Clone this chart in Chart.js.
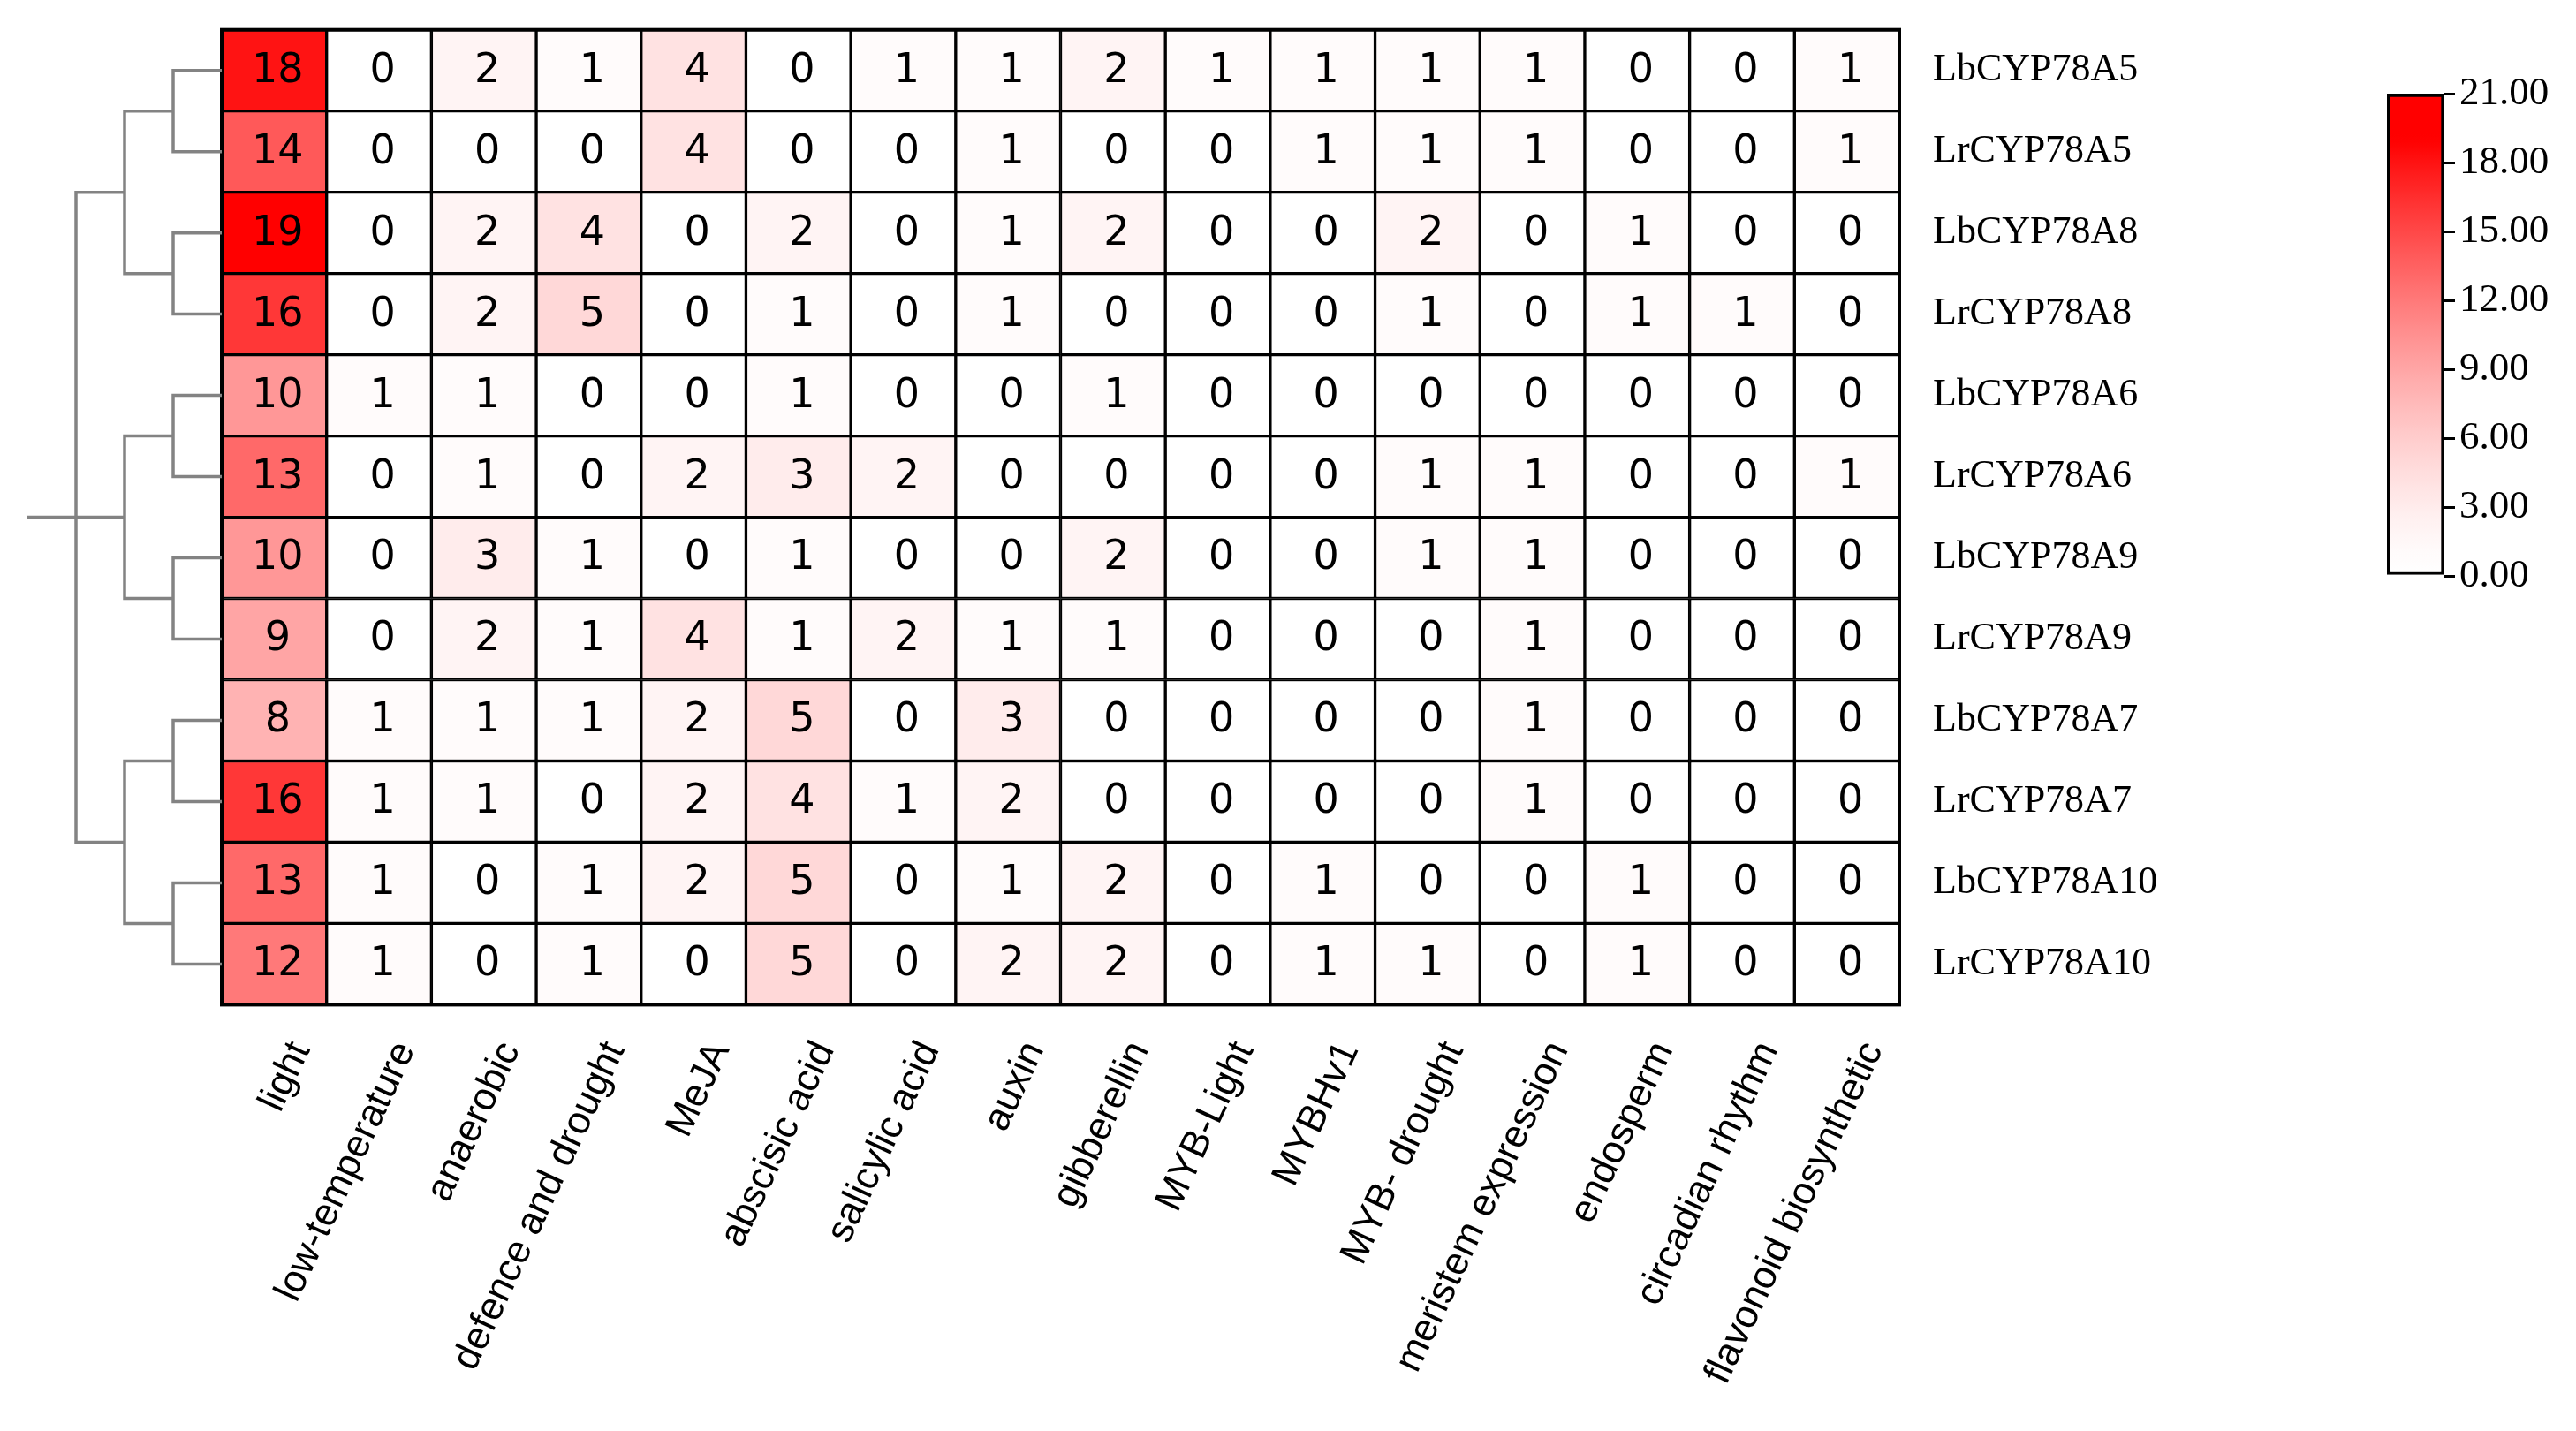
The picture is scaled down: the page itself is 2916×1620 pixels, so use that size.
<!DOCTYPE html>
<html>
<head>
<meta charset="utf-8">
<script src="https://cdn.jsdelivr.net/npm/chart.js@4.4.1/dist/chart.umd.min.js"></script>
<style>
html,body{margin:0;padding:0;background:#fff;}
#wrap{position:relative;width:2916px;height:1620px;background:#fff;}
#main{position:absolute;left:0;top:0;}
#dendro{position:absolute;left:0;top:0;}
#cbar{position:absolute;left:2600px;top:60px;}
</style>
</head>
<body>
<div id="wrap">
<canvas id="main" width="2916" height="1620"></canvas>
<canvas id="dendro" width="260" height="1620"></canvas>
<canvas id="cbar" width="316" height="640"></canvas>
</div>
<script>
// ---------------- data ----------------
const conditions = ['light','low-temperature','anaerobic','defence and drought','MeJA','abscisic acid','salicylic acid','auxin','gibberellin','MYB-Light','MYBHv1','MYB- drought','meristem expression','endosperm','circadian rhythm','flavonoid biosynthetic'];
const genes = ['LbCYP78A5','LrCYP78A5','LbCYP78A8','LrCYP78A8','LbCYP78A6','LrCYP78A6','LbCYP78A9','LrCYP78A9','LbCYP78A7','LrCYP78A7','LbCYP78A10','LrCYP78A10'];

const LbCYP78A5  = [18,0,2,1,4,0,1,1,2,1,1,1,1,0,0,1];
const LrCYP78A5  = [14,0,0,0,4,0,0,1,0,0,1,1,1,0,0,1];
const LbCYP78A8  = [19,0,2,4,0,2,0,1,2,0,0,2,0,1,0,0];
const LrCYP78A8  = [16,0,2,5,0,1,0,1,0,0,0,1,0,1,1,0];
const LbCYP78A6  = [10,1,1,0,0,1,0,0,1,0,0,0,0,0,0,0];
const LrCYP78A6  = [13,0,1,0,2,3,2,0,0,0,0,1,1,0,0,1];
const LbCYP78A9  = [10,0,3,1,0,1,0,0,2,0,0,1,1,0,0,0];
const LrCYP78A9  = [9,0,2,1,4,1,2,1,1,0,0,0,1,0,0,0];
const LbCYP78A7  = [8,1,1,1,2,5,0,3,0,0,0,0,1,0,0,0];
const LrCYP78A7  = [16,1,1,0,2,4,1,2,0,0,0,0,1,0,0,0];
const LbCYP78A10 = [13,1,0,1,2,5,0,1,2,0,1,0,0,1,0,0];
const LrCYP78A10 = [12,1,0,1,0,5,0,2,2,0,1,1,0,1,0,0];
const rows = [LbCYP78A5,LrCYP78A5,LbCYP78A8,LrCYP78A8,LbCYP78A6,LrCYP78A6,LbCYP78A9,LrCYP78A9,LbCYP78A7,LrCYP78A7,LbCYP78A10,LrCYP78A10];

// dendrogram (leaves 0..11, internal nodes 12..21)
const linkChildren = [[0,1],[2,3],[4,5],[6,7],[8,9],[10,11],[12,13],[14,15],[16,17],[18,19,20]];
const linkHeights  = [1,1,1,1,1,1,2,2,2,3];
const rootHeight   = 4;

// colour bar
const colorbarMin = 0;
const colorbarMax = 21;
const colorbarStep = 3;

// ---------------- helpers ----------------
const dataMax = Math.max(...rows.flat());
function colorFor(v){
  const t = Math.min(Math.max(v / dataMax, 0), 1);
  const c = Math.round(255 * (1 - Math.pow(t, 1.4)));
  return `rgb(255,${c},${c})`;
}

// build dendrogram segments (x = -height, y = row position)
const nodeY = genes.map((g,i)=>i+0.5);
const nodeH = genes.map(()=>0);
const dendroSets = [];
linkChildren.forEach((ch, k) => {
  const h = linkHeights[k];
  const ys = ch.map(c => nodeY[c]);
  const first = ch[0], last = ch[ch.length-1];
  dendroSets.push([
    {x:-nodeH[first], y:nodeY[first]}, {x:-h, y:nodeY[first]},
    {x:-h, y:nodeY[last]}, {x:-nodeH[last], y:nodeY[last]}
  ]);
  ch.slice(1,-1).forEach(c => dendroSets.push([{x:-nodeH[c], y:nodeY[c]}, {x:-h, y:nodeY[c]}]));
  nodeY.push(ys.reduce((a,b)=>a+b,0)/ys.length);
  nodeH.push(h);
});
const rootIdx = nodeY.length - 1;
dendroSets.push([{x:-rootHeight, y:nodeY[rootIdx]}, {x:-nodeH[rootIdx], y:nodeY[rootIdx]}]);

// ---------------- layout constants (style) ----------------
const L = 251, T = 33.7, R = 2150, B = 1137.4;
const DL = 31; // left end of dendrogram root

const cellDatasets = rows.map((vals, r) => ({
  label: genes[r],
  data: vals.map(() => [r, r + 1]),
  cellValues: vals,
  backgroundColor: vals.map(colorFor),
  borderColor: '#000',
  borderWidth: 2,
  borderSkipped: false,
  grouped: false,
  categoryPercentage: 1,
  barPercentage: 1
}));

const cellText = {
  id: 'cellText',
  afterDatasetsDraw(chart){
    const c = chart.ctx;
    c.save();
    c.font = '46px "DejaVu Sans"';
    c.fillStyle = '#000';
    c.textAlign = 'center';
    c.textBaseline = 'middle';
    chart.data.datasets.forEach((ds, i) => {
      if (!ds.cellValues) return;
      const meta = chart.getDatasetMeta(i);
      meta.data.forEach((el, j) => {
        const p = el.getProps(['x','y','base'], true);
        c.fillText(String(ds.cellValues[j]), p.x + 4, (p.y + p.base) / 2 + 1);
      });
    });
    const a = chart.chartArea;
    c.lineWidth = 4;
    c.strokeStyle = '#000';
    c.strokeRect(a.left, a.top, a.right - a.left, a.bottom - a.top);
    c.restore();
  }
};

new Chart(document.getElementById('main'), {
  type: 'bar',
  data: { labels: conditions, datasets: cellDatasets },
  options: {
    responsive: false,
    animation: false,
    devicePixelRatio: 1,
    layout: { padding: { left: L, top: T, right: 0, bottom: 0 } },
    plugins: { legend: { display: false }, tooltip: { enabled: false } },
    scales: {
      x: {
        type: 'category', position: 'bottom', offset: true,
        grid: { display: false, drawTicks: false }, border: { display: false },
        ticks: { autoSkip: false, minRotation: 65, maxRotation: 65, padding: 34, labelOffset: 30,
                 color: '#000', font: { family: '"Liberation Sans", Arial, sans-serif', size: 44 } },
        afterFit: s => { s.height = 1620 - B; }
      },
      y: { type: 'linear', min: 0, max: genes.length, reverse: true, display: false },
      yl: {
        type: 'category', labels: genes, position: 'right', offset: true,
        grid: { display: false, drawTicks: true, tickLength: 38 }, border: { display: false },
        ticks: { padding: 0, color: '#000', font: { family: '"Liberation Serif", "Times New Roman", serif', size: 44 } },
        afterFit: s => { s.width = 2916 - R; }
      }
    }
  },
  plugins: [cellText]
});

// ---------------- dendrogram ----------------
new Chart(document.getElementById('dendro'), {
  type: 'scatter',
  data: {
    datasets: dendroSets.map(pts => ({
      data: pts,
      showLine: true,
      borderColor: '#838383',
      borderWidth: 3.5,
      pointRadius: 0,
      tension: 0,
      clip: false,
      borderJoinStyle: 'miter',
      borderCapStyle: 'butt'
    }))
  },
  options: {
    responsive: false,
    animation: false,
    devicePixelRatio: 1,
    layout: { padding: { left: DL, right: 260 - L, top: T, bottom: 1620 - B } },
    plugins: { legend: { display: false }, tooltip: { enabled: false } },
    scales: {
      x: { type: 'linear', min: -rootHeight, max: 0, display: false },
      y: { type: 'linear', min: 0, max: genes.length, reverse: true, display: false }
    }
  }
});

// ---------------- colour bar ----------------
new Chart(document.getElementById('cbar'), {
  type: 'bar',
  data: {
    labels: [''],
    datasets: [{
      data: [[colorbarMin, colorbarMax]],
      backgroundColor: (ctx) => {
        const chart = ctx.chart;
        if (!chart.chartArea) return 'rgb(255,0,0)';
        const ys = chart.scales.y;
        const g = chart.ctx.createLinearGradient(0, ys.getPixelForValue(colorbarMin), 0, ys.getPixelForValue(colorbarMax));
        const n = 60;
        for (let k = 0; k <= n; k++) {
          const v = colorbarMin + (colorbarMax - colorbarMin) * k / n;
          g.addColorStop(k / n, colorFor(v));
        }
        return g;
      },
      borderColor: '#000',
      borderWidth: 4,
      borderSkipped: false,
      categoryPercentage: 1,
      barPercentage: 1
    }]
  },
  options: {
    responsive: false,
    animation: false,
    devicePixelRatio: 1,
    layout: { padding: { left: 102, top: 46, bottom: 48, right: 0 } },
    plugins: { legend: { display: false }, tooltip: { enabled: false } },
    scales: {
      x: { display: false },
      y: {
        position: 'right', min: colorbarMin, max: colorbarMax,
        ticks: { stepSize: colorbarStep, callback: v => Number(v).toFixed(2), color: '#000', padding: 5,
                 font: { family: '"Liberation Serif", "Times New Roman", serif', size: 45 } },
        grid: { drawOnChartArea: false, drawTicks: true, tickLength: 12, color: '#000', lineWidth: 3 },
        border: { display: false },
        afterFit: s => { s.width = 149; }
      }
    }
  }
});
</script>
</body>
</html>
